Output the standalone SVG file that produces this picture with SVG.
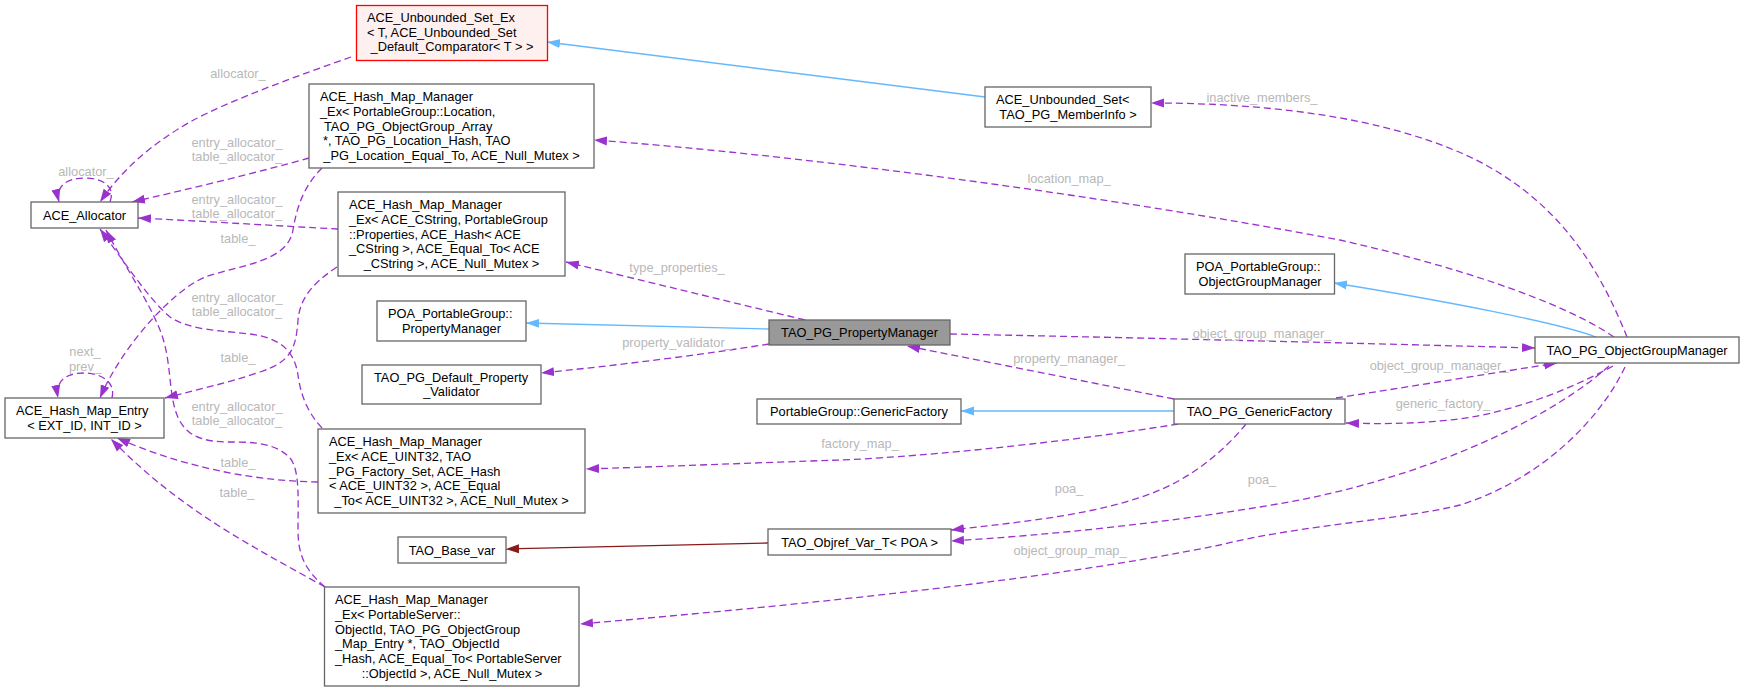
<svg xmlns="http://www.w3.org/2000/svg" width="1744" height="691" viewBox="0 0 1744 691">
<style>
.nb{fill:#ffffff;stroke:#666666;stroke-width:1.3}
.nr{fill:#FFF0F0;stroke:#FF0000;stroke-width:1.3}
.ng{fill:#999999;stroke:#666666;stroke-width:1.3}
text{font-family:"Liberation Sans",Arial,Helvetica,sans-serif;font-size:12.8px}
.t{fill:#000000}
.c{text-anchor:middle}
.lb{fill:#b8b8b8;text-anchor:middle}
.u{fill:none;stroke:#9A32CD;stroke-width:1.3;stroke-dasharray:7,4}
.i{fill:none;stroke:#63B8FF;stroke-width:1.3}
.r{fill:none;stroke:#8B1A1A;stroke-width:1.3}
</style>
<defs>
<marker id="ap" markerWidth="14" markerHeight="10" refX="13" refY="5" orient="auto" markerUnits="userSpaceOnUse"><path d="M0,0.5 L13,5 L0,9.5 z" fill="#9A32CD"/></marker>
<marker id="ab" markerWidth="14" markerHeight="10" refX="13" refY="5" orient="auto" markerUnits="userSpaceOnUse"><path d="M0,0.5 L13,5 L0,9.5 z" fill="#63B8FF"/></marker>
<marker id="ar" markerWidth="14" markerHeight="10" refX="13" refY="5" orient="auto" markerUnits="userSpaceOnUse"><path d="M0,0.5 L13,5 L0,9.5 z" fill="#8B1A1A"/></marker>
</defs>
<rect x="0" y="0" width="1744" height="691" fill="#ffffff"/>
<g id="connectors">
<!-- inheritance -->
<path class="i" marker-end="url(#ab)" d="M985,97 L547,42"/>
<path class="i" marker-end="url(#ab)" d="M769,329 C680,327 600,325 526,323"/>
<path class="i" marker-end="url(#ab)" d="M1174,411 L961,411"/>
<path class="i" marker-end="url(#ab)" d="M1596,337 C1560,323 1440,300 1334,283"/>
<path class="r" marker-end="url(#ar)" d="M768,543 L506,549"/>
<!-- usage -->
<path class="u" marker-end="url(#ap)" d="M351,57 C300,75 230,100 190,122 C150,145 122,170 100,202"/>
<path class="u" marker-end="url(#ap)" d="M110,202 C116,186 102,178 85,178 C67,178 55,186 59,202"/>
<path class="u" marker-end="url(#ap)" d="M309,158 C260,172 185,190 132,202"/>
<path class="u" marker-end="url(#ap)" d="M322,168 C305,185 297,205 293,230 C288,262 240,265 205,277 C170,292 120,350 100,398"/>
<path class="u" marker-end="url(#ap)" d="M338,229 C280,226 200,221 138,218"/>
<path class="u" marker-end="url(#ap)" d="M337,267 C310,285 300,300 298,320 C296,350 290,362 260,372 C225,384 195,390 165,398"/>
<path class="u" marker-end="url(#ap)" d="M322,428 C305,410 300,390 298,375 C294,350 280,338 250,334 C215,330 190,330 170,317 C150,300 130,270 100,229"/>
<path class="u" marker-end="url(#ap)" d="M325,587 C305,570 298,555 298,530 C298,500 300,470 290,458 C275,442 250,442 230,442 C200,442 185,435 177,415 C168,392 172,360 160,330 C148,300 128,272 106,230"/>
<path class="u" marker-end="url(#ap)" d="M318,482 C260,481 190,470 117,438"/>
<path class="u" marker-end="url(#ap)" d="M325,587 C250,545 180,510 111,439"/>
<path class="u" marker-end="url(#ap)" d="M112,398 C116,382 101,373 84,373 C66,373 55,381 58,398"/>
<path class="u" marker-end="url(#ap)" d="M805,320 L566,262"/>
<path class="u" marker-end="url(#ap)" d="M769,344 C700,355 620,365 541,373"/>
<path class="u" marker-end="url(#ap)" d="M950,334 C1150,338 1350,343 1535,348"/>
<path class="u" marker-end="url(#ap)" d="M1174,399 L907,346"/>
<path class="u" marker-end="url(#ap)" d="M1178,424 C1050,445 900,458 840,460 C750,463 650,467 586,469"/>
<path class="u" marker-end="url(#ap)" d="M1246,424 C1225,450 1195,475 1160,490 C1100,515 1020,522 951,530"/>
<path class="u" marker-end="url(#ap)" d="M1336,398 C1420,385 1500,372 1557,363"/>
<path class="u" marker-end="url(#ap)" d="M1613,366 C1560,395 1500,415 1450,420 C1410,424 1380,424 1346,423"/>
<path class="u" marker-end="url(#ap)" d="M1609,366 C1560,410 1450,470 1300,500 C1180,522 1050,535 951,541"/>
<path class="u" marker-end="url(#ap)" d="M1625,367 C1600,420 1540,480 1460,505 C1400,520 1300,525 1220,545 C1050,580 800,605 580,624"/>
<path class="u" marker-end="url(#ap)" d="M1614,337 C1560,300 1450,265 1340,240 C1100,195 800,155 594,140"/>
<path class="u" marker-end="url(#ap)" d="M1627,337 C1600,270 1560,200 1470,157 C1380,115 1260,103 1151,103"/>
<!-- labels -->
<text class="lb" x="238" y="77.5">allocator_</text>
<text class="lb" x="86" y="175.5">allocator_</text>
<text class="lb" x="237" y="146.5">entry_allocator_</text>
<text class="lb" x="237" y="161">table_allocator_</text>
<text class="lb" x="237" y="203.5">entry_allocator_</text>
<text class="lb" x="237" y="218">table_allocator_</text>
<text class="lb" x="238" y="242.5">table_</text>
<text class="lb" x="237" y="301.5">entry_allocator_</text>
<text class="lb" x="237" y="316">table_allocator_</text>
<text class="lb" x="238" y="361.5">table_</text>
<text class="lb" x="237" y="410.5">entry_allocator_</text>
<text class="lb" x="237" y="425">table_allocator_</text>
<text class="lb" x="238" y="466.5">table_</text>
<text class="lb" x="237" y="496.5">table_</text>
<text class="lb" x="85" y="355.5">next_</text>
<text class="lb" x="85" y="370.5">prev_</text>
<text class="lb" x="677" y="271.5">type_properties_</text>
<text class="lb" x="677" y="346.5">property_validator_</text>
<text class="lb" x="1069" y="182.5">location_map_</text>
<text class="lb" x="1262" y="101.5">inactive_members_</text>
<text class="lb" x="1262" y="337.5">object_group_manager_</text>
<text class="lb" x="1439" y="369.5">object_group_manager_</text>
<text class="lb" x="1443" y="407.5">generic_factory_</text>
<text class="lb" x="1069" y="362.5">property_manager_</text>
<text class="lb" x="860" y="447.5">factory_map_</text>
<text class="lb" x="1069" y="493">poa_</text>
<text class="lb" x="1262" y="483.5">poa_</text>
<text class="lb" x="1070" y="554.5">object_group_map_</text>
</g>
<g id="n_unbounded_set_ex">
<rect class="nr" x="356.5" y="5.5" width="191" height="55"/>
<text class="t" x="367" y="21.8">ACE_Unbounded_Set_Ex</text>
<text class="t" x="367" y="36.5">&lt; T, ACE_Unbounded_Set</text>
<text class="t c" x="452" y="51.2">_Default_Comparator&lt; T &gt; &gt;</text>
</g>
<g id="n_hmm_location">
<rect class="nb" x="309" y="84" width="285" height="84"/>
<text class="t" x="320" y="101.2">ACE_Hash_Map_Manager</text>
<text class="t" x="320" y="115.8">_Ex&lt; PortableGroup::Location,</text>
<text class="t" x="324" y="130.5">TAO_PG_ObjectGroup_Array</text>
<text class="t" x="323" y="145.2">*, TAO_PG_Location_Hash, TAO</text>
<text class="t c" x="451.5" y="159.8">_PG_Location_Equal_To, ACE_Null_Mutex &gt;</text>
</g>
<g id="n_allocator">
<rect class="nb" x="31" y="202" width="107" height="26"/>
<text class="t c" x="84.5" y="219.5">ACE_Allocator</text>
</g>
<g id="n_hmm_cstring">
<rect class="nb" x="338" y="192" width="227" height="84"/>
<text class="t" x="349" y="209.2">ACE_Hash_Map_Manager</text>
<text class="t" x="349" y="223.8">_Ex&lt; ACE_CString, PortableGroup</text>
<text class="t" x="349" y="238.5">::Properties, ACE_Hash&lt; ACE</text>
<text class="t" x="349" y="253.2">_CString &gt;, ACE_Equal_To&lt; ACE</text>
<text class="t c" x="451.5" y="267.8">_CString &gt;, ACE_Null_Mutex &gt;</text>
</g>
<g id="n_poa_propertymanager">
<rect class="nb" x="377" y="301" width="149" height="40"/>
<text class="t" x="388" y="318.2">POA_PortableGroup::</text>
<text class="t c" x="451.5" y="332.8">PropertyManager</text>
</g>
<g id="n_default_property_validator">
<rect class="nb" x="362" y="365" width="179" height="39"/>
<text class="t" x="374" y="381.7">TAO_PG_Default_Property</text>
<text class="t c" x="451.5" y="396.3">_Validator</text>
</g>
<g id="n_hash_map_entry">
<rect class="nb" x="5" y="398" width="159" height="40"/>
<text class="t" x="16" y="415.2">ACE_Hash_Map_Entry</text>
<text class="t c" x="84.5" y="429.8">&lt; EXT_ID, INT_ID &gt;</text>
</g>
<g id="n_hmm_uint32">
<rect class="nb" x="318" y="429" width="267" height="84"/>
<text class="t" x="329" y="446.2">ACE_Hash_Map_Manager</text>
<text class="t" x="329" y="460.8">_Ex&lt; ACE_UINT32, TAO</text>
<text class="t" x="329" y="475.5">_PG_Factory_Set, ACE_Hash</text>
<text class="t" x="329" y="490.2">&lt; ACE_UINT32 &gt;, ACE_Equal</text>
<text class="t c" x="451.5" y="504.8">_To&lt; ACE_UINT32 &gt;, ACE_Null_Mutex &gt;</text>
</g>
<g id="n_base_var">
<rect class="nb" x="398" y="537" width="108" height="26"/>
<text class="t c" x="452" y="554.5">TAO_Base_var</text>
</g>
<g id="n_hmm_objectid">
<rect class="nb" x="324.5" y="587" width="254.5" height="99"/>
<text class="t" x="335" y="604.3">ACE_Hash_Map_Manager</text>
<text class="t" x="335" y="619">_Ex&lt; PortableServer::</text>
<text class="t" x="335" y="633.7">ObjectId, TAO_PG_ObjectGroup</text>
<text class="t" x="335" y="648.3">_Map_Entry *, TAO_ObjectId</text>
<text class="t" x="335" y="663">_Hash, ACE_Equal_To&lt; PortableServer</text>
<text class="t c" x="452" y="677.7">::ObjectId &gt;, ACE_Null_Mutex &gt;</text>
</g>
<g id="n_unbounded_set_memberinfo">
<rect class="nb" x="985" y="87" width="166" height="40"/>
<text class="t" x="996" y="104.2">ACE_Unbounded_Set&lt;</text>
<text class="t c" x="1068" y="118.8">TAO_PG_MemberInfo &gt;</text>
</g>
<g id="n_property_manager">
<rect class="ng" x="769" y="320" width="181" height="25"/>
<text class="t c" x="859.5" y="337">TAO_PG_PropertyManager</text>
</g>
<g id="n_pg_generic_factory">
<rect class="nb" x="757" y="399" width="204" height="25"/>
<text class="t c" x="859" y="416">PortableGroup::GenericFactory</text>
</g>
<g id="n_objref_var">
<rect class="nb" x="768" y="529" width="183" height="26"/>
<text class="t c" x="859.5" y="546.5">TAO_Objref_Var_T&lt; POA &gt;</text>
</g>
<g id="n_poa_objectgroupmanager">
<rect class="nb" x="1185" y="254" width="149.5" height="40"/>
<text class="t" x="1196" y="271.2">POA_PortableGroup::</text>
<text class="t c" x="1260" y="285.8">ObjectGroupManager</text>
</g>
<g id="n_objectgroupmanager">
<rect class="nb" x="1535" y="337" width="204" height="26"/>
<text class="t c" x="1637" y="354.5">TAO_PG_ObjectGroupManager</text>
</g>
<g id="n_generic_factory">
<rect class="nb" x="1174" y="399" width="171" height="25"/>
<text class="t c" x="1259.5" y="416">TAO_PG_GenericFactory</text>
</g>
</svg>
